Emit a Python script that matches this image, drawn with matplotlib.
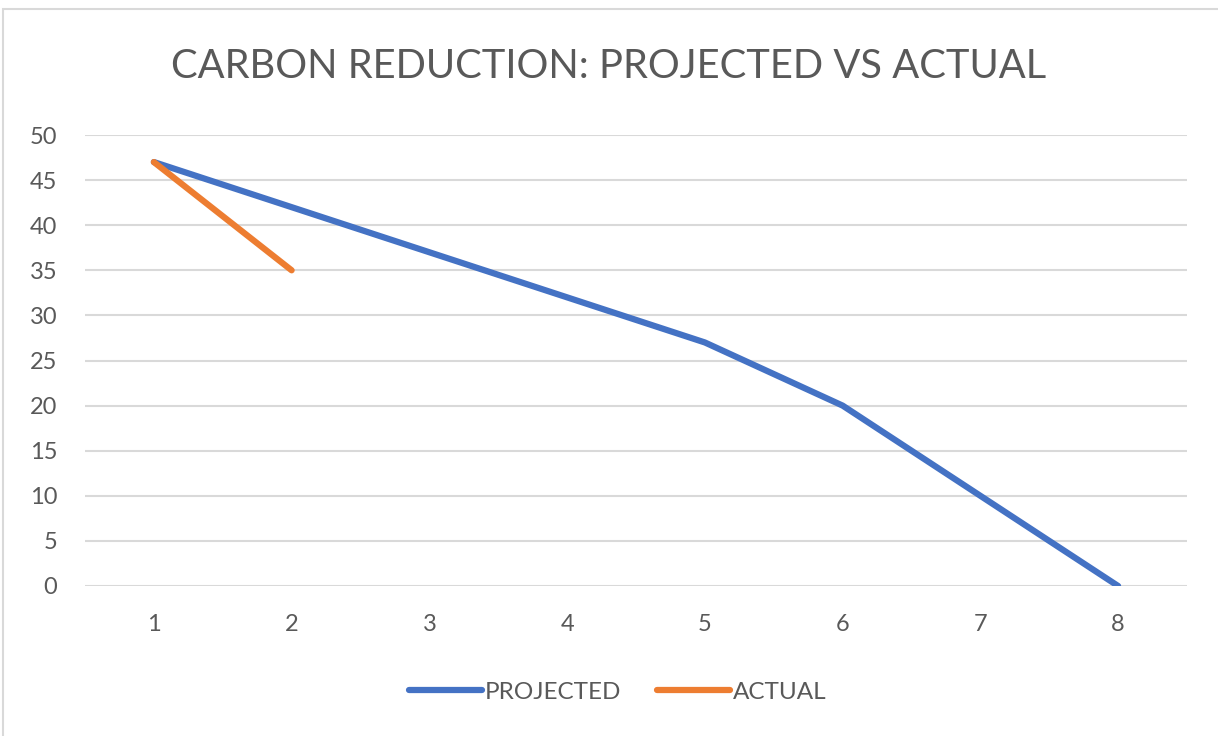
import matplotlib.pyplot as plt
from matplotlib.patches import Rectangle

# datos
categorias = [1, 2, 3, 4, 5, 6, 7, 8]
proyectado = [47, 42, 37, 32, 27, 20, 10, 0]
real = [47, 35]

gris_texto = '#595959'
plt.rcParams['font.family'] = ['Lato', 'DejaVu Sans']

fig = plt.figure(figsize=(12.18, 7.36), dpi=100)
ax = fig.add_axes([85/1218, 1-586/736, (1187-85)/1218, (586-135)/736])

ax.plot(categorias, proyectado, color='#4472C4', lw=4.5, solid_capstyle='round',
        solid_joinstyle='round', label='PROJECTED', zorder=3)
ax.plot(categorias[:len(real)], real, color='#ED7D31', lw=4.5, solid_capstyle='round',
        solid_joinstyle='round', label='ACTUAL', zorder=3)

ax.set_xlim(0.5, 8.5)
ax.set_ylim(0, 50)
ax.set_yticks(range(0, 51, 5))
ax.set_xticks(categorias)
ax.grid(axis='y', color='#D9D9D9', lw=1.5)
ax.set_axisbelow(True)
for s in ax.spines.values():
    s.set_visible(False)
ax.tick_params(length=0, labelsize=17, labelcolor=gris_texto)
ax.tick_params(axis='y', pad=20)
ax.tick_params(axis='x', pad=20)

fig.text(0.5, 1-66/736, 'CARBON REDUCTION: PROJECTED VS ACTUAL', ha='center', va='center',
         fontsize=28.7, color=gris_texto)

fig.legend(loc='center', bbox_to_anchor=(0.507, 1-692/736), ncol=2, frameon=False,
           fontsize=17.5, labelcolor=gris_texto, handlelength=3.0, handletextpad=0.1,
           columnspacing=1.5)

# borde del area del grafico
fig.patches.append(Rectangle((3/1218, -0.05), 1.1, 1-9/736+0.05, transform=fig.transFigure,
                             fill=False, edgecolor='#D9D9D9', lw=1.5))

fig.savefig('out.png', dpi=100)
